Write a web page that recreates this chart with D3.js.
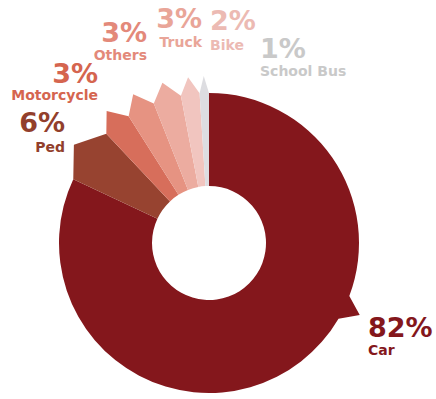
<!DOCTYPE html>
<html>
<head>
<meta charset="utf-8">
<script src="https://cdn.jsdelivr.net/npm/d3@7"></script>
<style>
  html, body { margin: 0; padding: 0; background: #ffffff; }
  svg { display: block; }
  text { font-family: "DejaVu Sans", "Lato", sans-serif; font-weight: bold; }
</style>
</head>
<body>
<svg id="chart" width="436" height="399"></svg>
<script>
// Share of crashes by vehicle type
const categories = ["Car", "Ped", "Motorcycle", "Others", "Truck", "Bike", "School Bus"];
const shares = [82, 6, 3, 3, 3, 2, 1];
const percentLabels = ["82%", "6%", "3%", "3%", "3%", "2%", "1%"];
const sliceColors = ["#84171c", "#974330", "#d76e5b", "#e69382", "#ecaca0", "#f1c5bf", "#dddde1"];
const labelColors = ["#84171c", "#923f2c", "#d5654f", "#e3897a", "#e9a598", "#ecbab3", "#c9c9c9"];

const width = 436, height = 399;
const cx = 209, cy = 243;
const innerR = 57, outerR = 150, tipR = 167;

// Label anchor for each category: [x, y of the percent baseline, text-anchor, gap to name baseline]
const labelLayout = {
  "Car":        [368, 337, "start", 18],
  "Ped":        [65, 132, "end", 20],
  "Motorcycle": [98, 83, "end", 17],
  "Others":     [147, 42, "end", 18],
  "Truck":      [202, 28, "end", 19],
  "Bike":       [210, 30, "start", 20],
  "School Bus": [260, 58, "start", 18]
};

const rad = Math.PI / 180;
// The large Car slice points its tooth toward its label instead of its middle
const carToothAngle = 115.5 * rad, carToothHalf = 4.8 * rad;

const data = categories.map((c, i) => ({ name: c, value: shares[i], pct: percentLabels[i], color: sliceColors[i], label: labelColors[i] }));

const pie = d3.pie().sort(null).value(d => d.value).startAngle(0).endAngle(2 * Math.PI);
const arcs = pie(data);

const svg = d3.select("#chart");
const g = svg.append("g").attr("transform", `translate(${cx},${cy})`);

const pt = (a, r) => [Math.sin(a) * r, -Math.cos(a) * r];

function slicePath(s) {
  const a0 = s.startAngle, a1 = s.endAngle;
  let tc, th;
  if (s.data.name === "Car") { tc = carToothAngle; th = carToothHalf; }
  else { tc = (a0 + a1) / 2; th = (a1 - a0) / 2; }
  const p = d3.path();
  const start = pt(a0, outerR);
  p.moveTo(start[0], start[1]);
  const t0 = Math.max(a0, tc - th), t1 = Math.min(a1, tc + th);
  if (t0 > a0) p.arc(0, 0, outerR, a0 - Math.PI / 2, t0 - Math.PI / 2, false);
  const tip = pt(tc, tipR);
  p.lineTo(tip[0], tip[1]);
  const e = pt(t1, outerR);
  p.lineTo(e[0], e[1]);
  if (t1 < a1) p.arc(0, 0, outerR, t1 - Math.PI / 2, a1 - Math.PI / 2, false);
  const ie = pt(a1, innerR);
  p.lineTo(ie[0], ie[1]);
  p.arc(0, 0, innerR, a1 - Math.PI / 2, a0 - Math.PI / 2, true);
  p.closePath();
  return p.toString();
}

g.selectAll("path.slice")
  .data(arcs)
  .join("path")
  .attr("class", "slice")
  .attr("d", slicePath)
  .attr("fill", d => d.data.color);

// Labels: percentage with the category name on the line below
const labels = svg.selectAll("text.label")
  .data(data)
  .join("text")
  .attr("class", "label")
  .attr("fill", d => d.label)
  .attr("text-anchor", d => labelLayout[d.name][2]);

labels.append("tspan")
  .attr("x", d => labelLayout[d.name][0])
  .attr("y", d => labelLayout[d.name][1])
  .attr("font-size", 27)
  .text(d => d.pct);

labels.append("tspan")
  .attr("x", d => labelLayout[d.name][0])
  .attr("y", d => labelLayout[d.name][1] + labelLayout[d.name][3])
  .attr("font-size", 14)
  .text(d => d.name);
</script>
</body>
</html>
